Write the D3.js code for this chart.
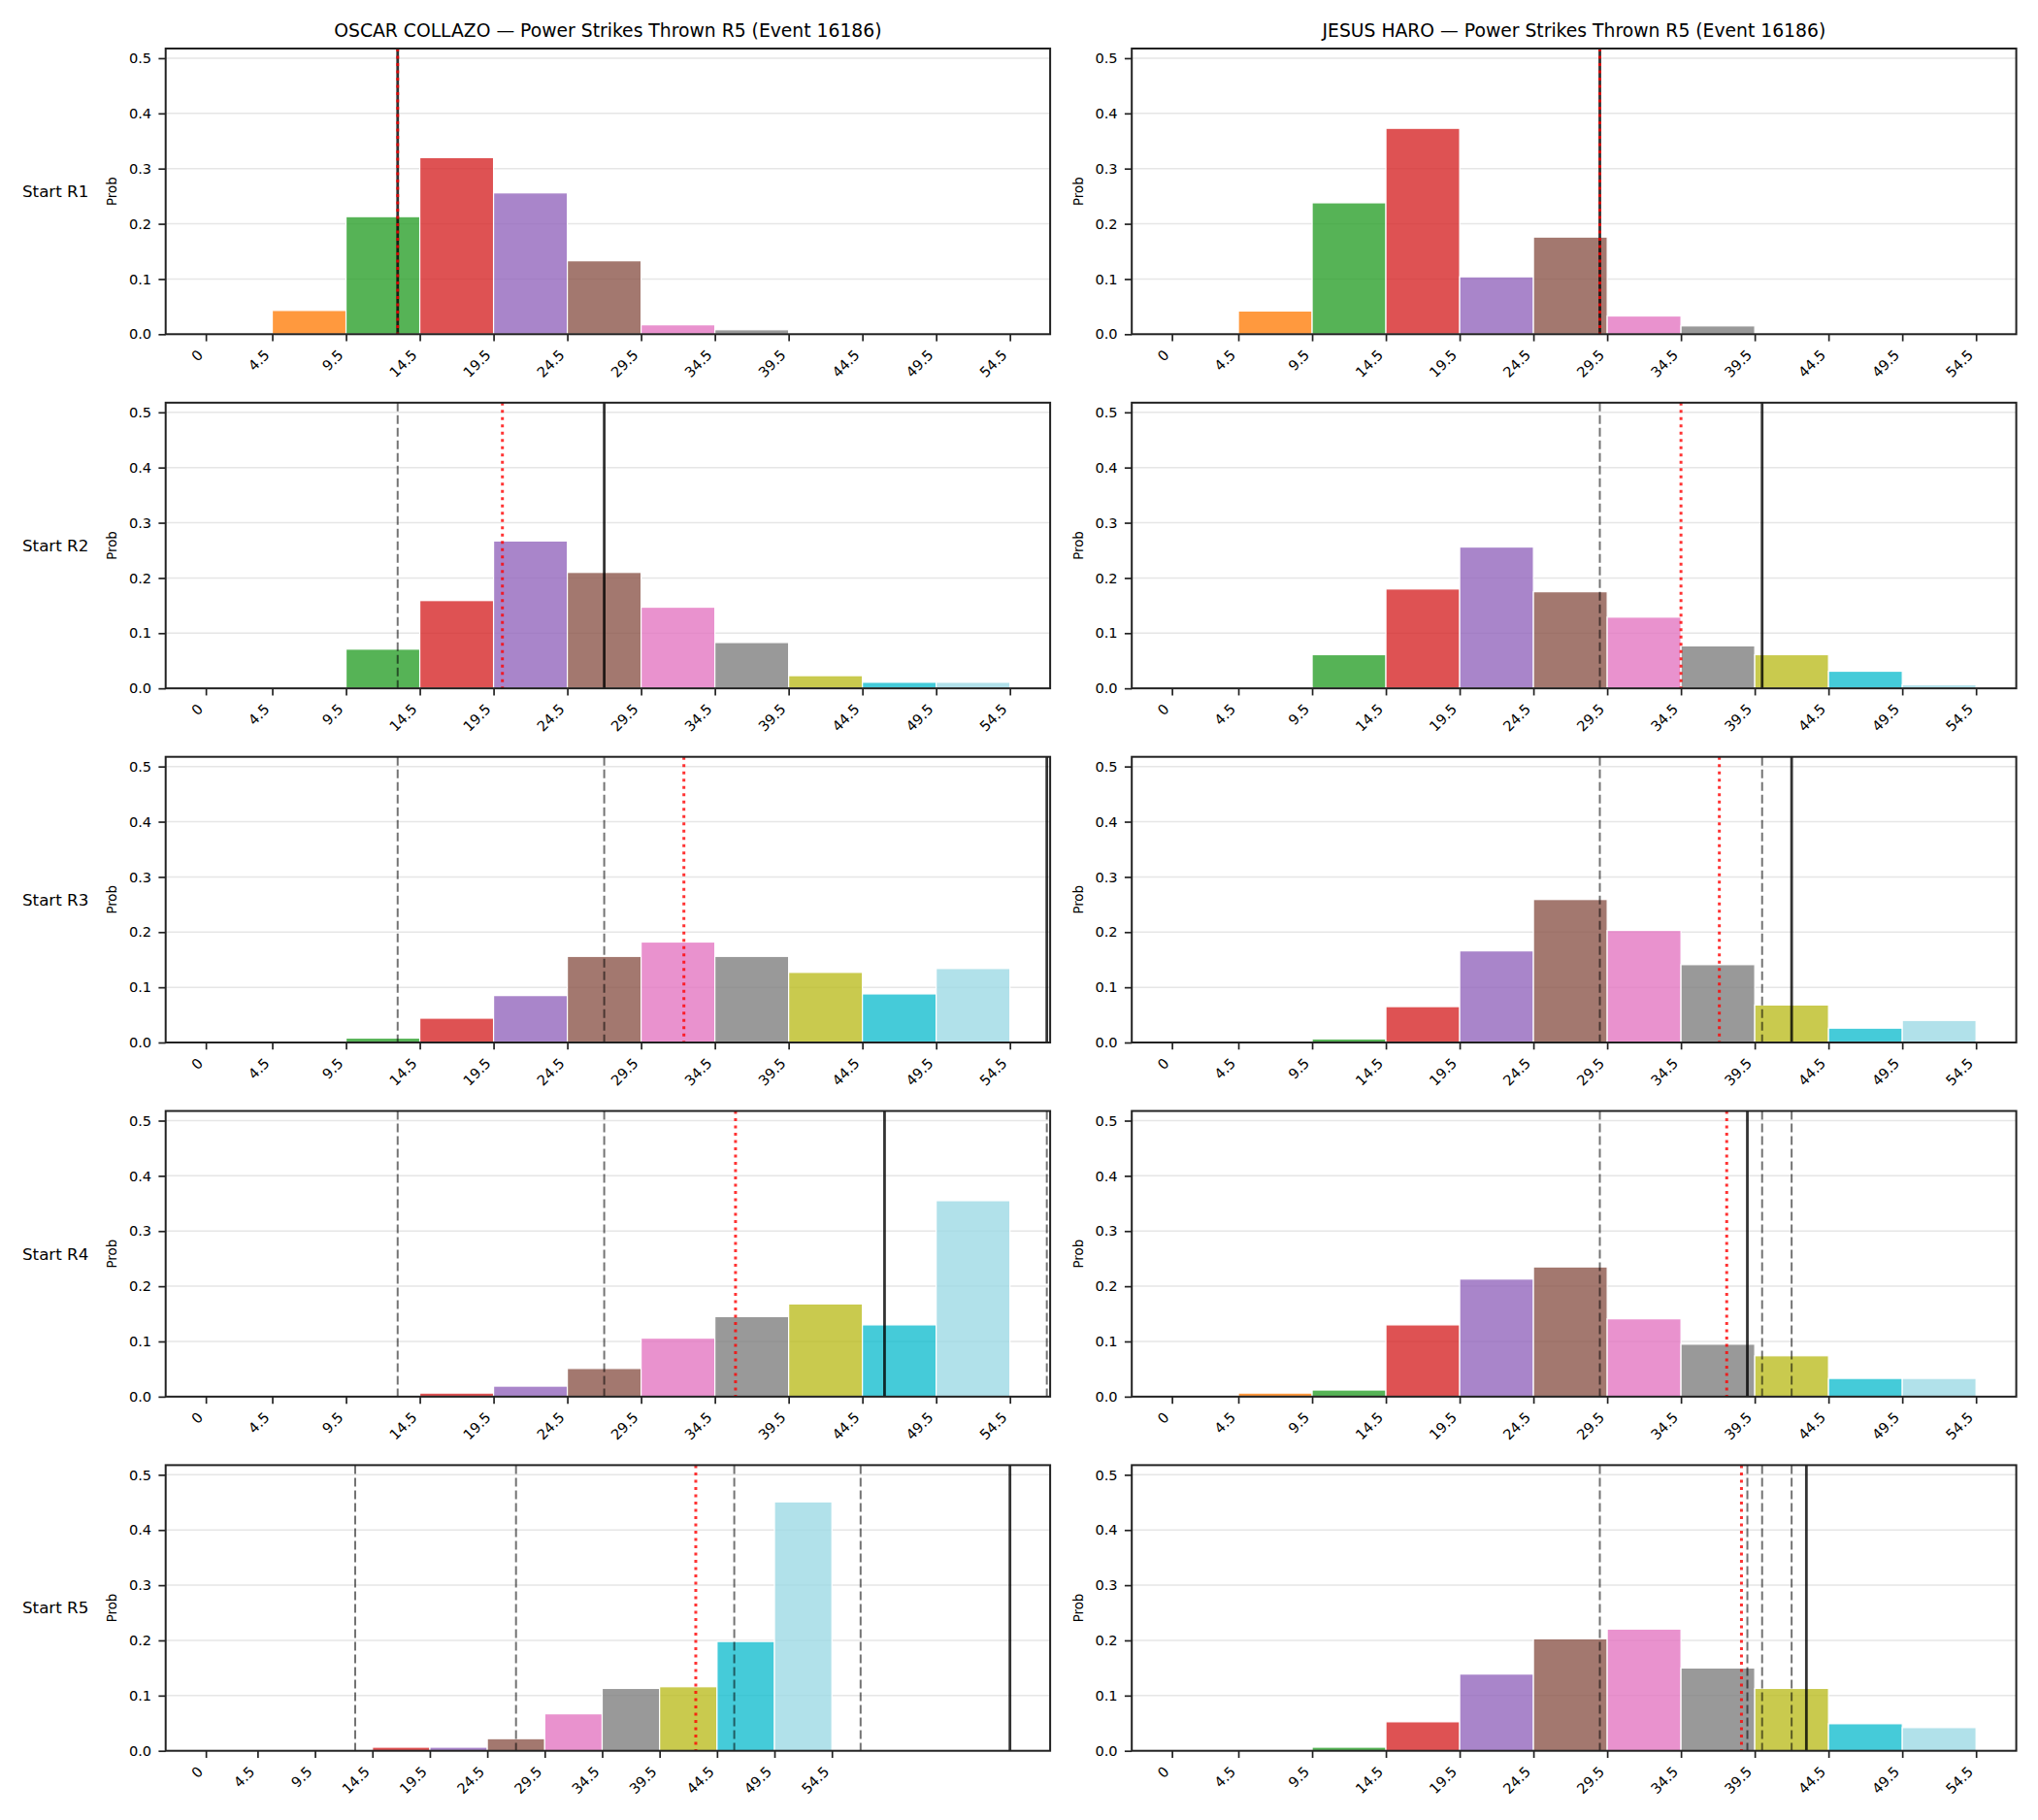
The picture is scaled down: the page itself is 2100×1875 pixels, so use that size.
<!DOCTYPE html>
<html>
<head>
<meta charset="utf-8">
<script src="https://d3js.org/d3.v7.min.js"></script>
<style>
  body { margin: 0; background: #fff; }
  text { font-family: "DejaVu Sans", sans-serif; fill: #000; }
</style>
</head>
<body>
<div id="chart"></div>
<script>
// bin edges of the histogram, also used as x tick labels
var binEdges = [0, 4.5, 9.5, 14.5, 19.5, 24.5, 29.5, 34.5, 39.5, 44.5, 49.5, 54.5];
var yTicks = [0, 0.1, 0.2, 0.3, 0.4, 0.5];
var roundLabels = ["Start R1", "Start R2", "Start R3", "Start R4", "Start R5"];
var fighters = ["OSCAR COLLAZO", "JESUS HARO"];
var titleSuffix = " \u2014 Power Strikes Thrown R5 (Event 16186)";

// probability per bin, one row per starting round
var collazoProbs = [
  [0, 0.043, 0.213, 0.320, 0.256, 0.133, 0.017, 0.008, 0, 0, 0],
  [0, 0, 0.071, 0.159, 0.267, 0.210, 0.147, 0.083, 0.023, 0.011, 0.011],
  [0, 0, 0.008, 0.044, 0.085, 0.156, 0.182, 0.156, 0.127, 0.088, 0.134],
  [0, 0, 0, 0.0065, 0.019, 0.051, 0.106, 0.145, 0.168, 0.130, 0.355],
  [0, 0, 0, 0.0065, 0.0065, 0.022, 0.067, 0.113, 0.116, 0.198, 0.451]
];
var haroProbs = [
  [0, 0.042, 0.238, 0.373, 0.104, 0.176, 0.033, 0.015, 0, 0, 0],
  [0, 0, 0.061, 0.180, 0.256, 0.175, 0.129, 0.077, 0.061, 0.031, 0.0065],
  [0, 0, 0.0065, 0.065, 0.166, 0.259, 0.203, 0.141, 0.068, 0.026, 0.040],
  [0, 0.0065, 0.012, 0.130, 0.213, 0.235, 0.141, 0.095, 0.074, 0.033, 0.033],
  [0, 0, 0.0065, 0.0525, 0.139, 0.203, 0.2205, 0.150, 0.113, 0.049, 0.042]
];

// solid black line, red dotted line, grey dashed lines
var collazoActual = [13, 27, 57, 46, 70];
var collazoMean = [13, 20.1, 32.4, 35.9, 42.65];
var collazoPrior = [[], [13], [13, 27], [13, 27, 57], [13, 27, 46, 57]];
var haroActual = [29, 40, 42, 39, 43];
var haroMean = [29, 34.5, 37.1, 37.6, 38.6];
var haroPrior = [[], [29], [29, 40], [29, 40, 42], [29, 39, 40, 42]];

var binColors = ["#1f77b4", "#ff7f0e", "#2ca02c", "#d62728", "#9467bd", "#8c564b",
                 "#e377c2", "#7f7f7f", "#bcbd22", "#17becf", "#9edae5"];

function init(){
  var w = 2100;
  var h = 1875;
  var colX = [170.7, 1166.2];
  var axW = 911.4;
  var rowTop = 50;
  var rowStep = 364.85;
  var axH = 294.3;
  var yMax = 0.5175;

  var svg = d3.select("#chart")
    .append("svg")
    .attr("width", w)
    .attr("height", h);

  var data = [
    {probs: collazoProbs, actual: collazoActual, mean: collazoMean, prior: collazoPrior},
    {probs: haroProbs, actual: haroActual, mean: haroMean, prior: haroPrior}
  ];

  function padDomain(lo, hi){
    var m = (hi - lo) * 0.05;
    return [lo - m, hi + m];
  }

  var clipId = 0;

  function panel(col, row){
    var d = data[col];
    var probs = d.probs[row];
    var prior = d.prior[row];
    var x0 = colX[col];
    var y0 = rowTop + row * rowStep;

    var g = svg.append("g").attr("transform", "translate(" + x0 + "," + y0 + ")");

    // x limits like matplotlib: rescale only when a line falls outside
    var first = binEdges[0], last = binEdges[binEdges.length - 1];
    var dom = padDomain(first, last);
    var allLines = prior.concat([d.actual[row], d.mean[row]]);
    var lo = d3.min(allLines), hi = d3.max(allLines);
    if (lo < dom[0] || hi > dom[1]) {
      dom = padDomain(Math.min(first, lo), Math.max(last, hi));
    }

    var xScale = d3.scaleLinear().domain(dom).range([0, axW]);
    var yScale = d3.scaleLinear().domain([0, yMax]).range([axH, 0]);

    clipId++;
    g.append("clipPath").attr("id", "clip" + clipId)
      .append("rect").attr("width", axW).attr("height", axH);

    // grid
    g.selectAll(".grid")
      .data(yTicks)
      .enter().append("line")
      .attr("x1", 0).attr("x2", axW)
      .attr("y1", function(t){ return yScale(t); })
      .attr("y2", function(t){ return yScale(t); })
      .attr("stroke", "#e6e6e6")
      .attr("stroke-width", 1.5);

    // bars
    g.selectAll(".bar")
      .data(probs)
      .enter().append("rect")
      .attr("x", function(p, i){ return xScale(binEdges[i]); })
      .attr("width", function(p, i){ return xScale(binEdges[i + 1]) - xScale(binEdges[i]); })
      .attr("y", function(p){ return yScale(p); })
      .attr("height", function(p){ return yScale(0) - yScale(p); })
      .attr("fill", function(p, i){ return binColors[i]; })
      .attr("fill-opacity", 0.8)
      .attr("stroke", p => p > 0 ? "#fff" : "none")
      .attr("stroke-width", 1.2);

    var lines = g.append("g").attr("clip-path", "url(#clip" + clipId + ")");

    lines.selectAll(".prior")
      .data(prior)
      .enter().append("line")
      .attr("x1", function(v){ return xScale(v); })
      .attr("x2", function(v){ return xScale(v); })
      .attr("y1", 0).attr("y2", axH)
      .attr("stroke", "#000")
      .attr("stroke-opacity", 0.55)
      .attr("stroke-width", 2)
      .attr("stroke-dasharray", "9,4");

    lines.append("line")
      .attr("x1", xScale(d.actual[row])).attr("x2", xScale(d.actual[row]))
      .attr("y1", 0).attr("y2", axH)
      .attr("stroke", "#000")
      .attr("stroke-opacity", 0.8)
      .attr("stroke-width", 2.8);

    lines.append("line")
      .attr("x1", xScale(d.mean[row])).attr("x2", xScale(d.mean[row]))
      .attr("y1", 0).attr("y2", axH)
      .attr("stroke", "#ff0000")
      .attr("stroke-opacity", 0.8)
      .attr("stroke-width", 3)
      .attr("stroke-dasharray", "3,4.5");

    // axes
    var xAxis = d3.axisBottom(xScale)
      .tickValues(binEdges)
      .tickFormat(function(v){ return String(v); })
      .tickSize(7.3);
    var yAxis = d3.axisLeft(yScale)
      .tickValues(yTicks)
      .tickFormat(d3.format(".1f"))
      .tickSize(7.3)
      .tickPadding(7.3);

    var gx = g.append("g")
      .attr("transform", "translate(0," + axH + ")")
      .call(xAxis);
    gx.selectAll("text")
      .attr("x", 0).attr("y", 0).attr("dy", null)
      .attr("text-anchor", "end")
      .attr("transform", "translate(-2.5,22.4) rotate(-45)");

    var gy = g.append("g").call(yAxis);

    [gx, gy].forEach(function(a){
      a.select(".domain").remove();
      a.selectAll("line").attr("stroke", "#222").attr("stroke-width", 1.7);
      a.selectAll("text")
        .style("font-family", "DejaVu Sans")
        .style("font-size", "14.6px")
        .attr("fill", "#000");
    });

    // spines
    g.append("rect")
      .attr("width", axW).attr("height", axH)
      .attr("fill", "none")
      .attr("stroke", "#222")
      .attr("stroke-width", 2);

    g.append("text")
      .attr("transform", "translate(-55," + (axH / 2) + ") rotate(-90)")
      .attr("text-anchor", "middle")
      .attr("dy", "0.35em")
      .style("font-size", "13.3px")
      .text("Prob");

    if (row === 0) {
      g.append("text")
        .attr("x", axW / 2).attr("y", -12.5)
        .attr("text-anchor", "middle")
        .style("font-size", "18.75px")
        .text(fighters[col] + titleSuffix);
    }
    if (col === 0) {
      svg.append("text")
        .attr("x", 23).attr("y", y0 + axH / 2)
        .attr("dy", "0.35em")
        .style("font-size", "16.7px")
        .text(roundLabels[row]);
    }
  }

  for (var r = 0; r < roundLabels.length; r++) {
    for (var c = 0; c < fighters.length; c++) {
      panel(c, r);
    }
  }
}

window.onload = init;
</script>
</body>
</html>
